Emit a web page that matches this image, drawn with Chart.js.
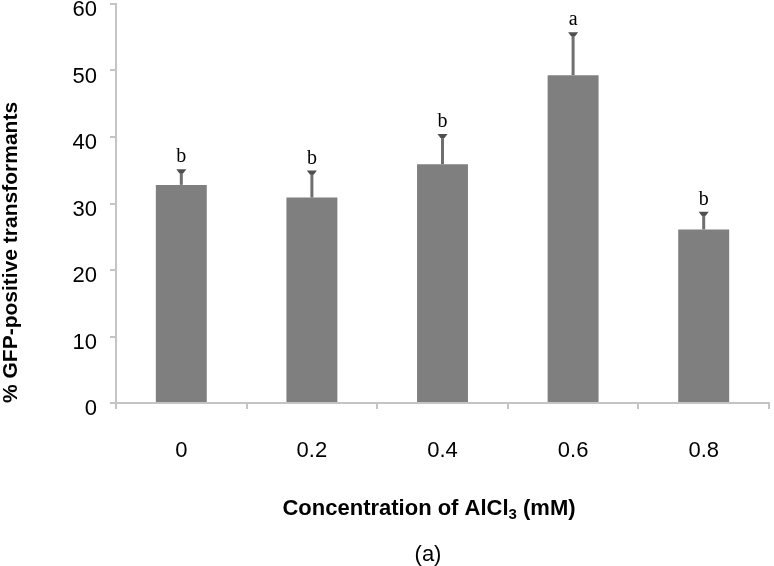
<!DOCTYPE html>
<html>
<head>
<meta charset="utf-8">
<script src="https://cdn.jsdelivr.net/npm/chart.js@4.4.1/dist/chart.umd.min.js"></script>
<style>
  html, body { margin: 0; padding: 0; background: #fff; }
</style>
</head>
<body>
<canvas id="chart" width="774" height="566"></canvas>
<script>
// AlCl3 concentrations (mM) and % GFP-positive transformants
const categories = ['0', '0.2', '0.4', '0.6', '0.8'];
const means = [32.8, 30.9, 35.9, 49.3, 26.1];
const errors = [2.2, 3.9, 4.4, 6.3, 2.5];
const letters = ['b', 'b', 'b', 'a', 'b'];

const AXIS_GREY = '#c4c4c4';

// upper error bars + significance letters
const errorBars = {
  id: 'errorBars',
  afterDatasetsDraw(chart) {
    const ctx = chart.ctx;
    const yScale = chart.scales.y;
    const meta = chart.getDatasetMeta(0);
    ctx.save();
    meta.data.forEach((bar, i) => {
      const x = bar.x;
      const top = yScale.getPixelForValue(means[i] + errors[i]);
      ctx.strokeStyle = '#6f6f6f';
      ctx.lineWidth = 3;
      ctx.beginPath();
      ctx.moveTo(x, bar.y);
      ctx.lineTo(x, top);
      ctx.stroke();

      ctx.fillStyle = '#4f4f4f';
      ctx.beginPath();
      ctx.moveTo(x - 5, top - 1);
      ctx.lineTo(x + 5, top - 1);
      ctx.lineTo(x + 2, top + 3);
      ctx.lineTo(x - 2, top + 3);
      ctx.closePath();
      ctx.fill();

      ctx.fillStyle = '#000';
      ctx.font = '20px "Liberation Serif", "DejaVu Serif", serif';
      ctx.textAlign = 'center';
      ctx.textBaseline = 'alphabetic';
      ctx.fillText(letters[i], x, top - 8);
    });
    ctx.restore();
  }
};

// x axis title with subscript, and panel label
const captions = {
  id: 'captions',
  afterDraw(chart) {
    const ctx = chart.ctx;
    ctx.save();
    ctx.fillStyle = '#000';
    ctx.textBaseline = 'alphabetic';
    ctx.textAlign = 'left';

    const big = 'bold 22px "Liberation Sans", Arial, sans-serif';
    const small = 'bold 15px "Liberation Sans", Arial, sans-serif';
    const parts = [['Concentration of AlCl', big, 0], ['3', small, 4], [' (mM)', big, 0]];
    let w = 0;
    parts.forEach(p => { ctx.font = p[1]; w += ctx.measureText(p[0]).width; });
    let x = 429 - w / 2;
    const base = 515;
    parts.forEach(p => {
      ctx.font = p[1];
      ctx.fillText(p[0], x, base + p[2]);
      x += ctx.measureText(p[0]).width;
    });

    ctx.font = '22px "Liberation Sans", Arial, sans-serif';
    ctx.textAlign = 'center';
    ctx.fillText('(a)', 428, 561);
    ctx.restore();
  }
};

new Chart(document.getElementById('chart'), {
  type: 'bar',
  data: {
    labels: categories,
    datasets: [{
      data: means,
      backgroundColor: '#7f7f7f',
      borderWidth: 0,
      categoryPercentage: 1,
      barPercentage: 0.39
    }]
  },
  options: {
    responsive: false,
    animation: false,
    devicePixelRatio: 1,
    layout: { padding: { top: 0, right: 5, bottom: 0, left: 0 } },
    plugins: {
      legend: { display: false },
      tooltip: { enabled: false }
    },
    scales: {
      x: {
        offset: true,
        grid: { display: true, drawOnChartArea: false, offset: true, tickLength: 6, color: AXIS_GREY, lineWidth: 2 },
        border: { color: AXIS_GREY, width: 2 },
        ticks: {
          color: '#000',
          padding: 29,
          font: { family: '"Liberation Sans", Arial, sans-serif', size: 22 }
        },
        afterFit(scale) { scale.height = 163; }
      },
      y: {
        min: 0,
        max: 60,
        grid: { display: true, drawOnChartArea: false, tickLength: 6, color: AXIS_GREY, lineWidth: 2 },
        border: { color: AXIS_GREY, width: 2 },
        ticks: {
          stepSize: 10,
          color: '#000',
          padding: 13,
          labelOffset: 6,
          font: { family: '"Liberation Sans", Arial, sans-serif', size: 22 }
        },
        title: {
          display: true,
          text: '% GFP-positive transformants',
          align: 'start',
          color: '#000',
          padding: 0,
          font: { family: '"Liberation Sans", Arial, sans-serif', size: 21, weight: 'bold', lineHeight: 1.1 }
        },
        afterFit(scale) {
          scale.width = 116;
          scale.paddingTop = 4;
          scale.paddingBottom = 0;
        }
      }
    }
  },
  plugins: [errorBars, captions]
});
</script>
</body>
</html>
